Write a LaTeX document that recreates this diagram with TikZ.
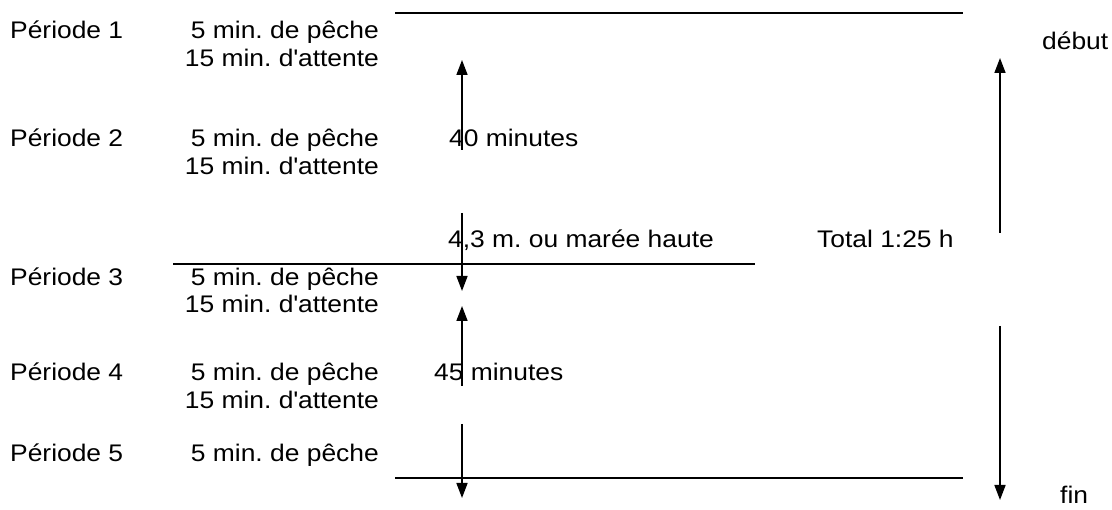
\documentclass[tikz,border=0pt]{standalone}
\usepackage{fontspec}
\setmainfont{Liberation Sans}[FakeStretch=1.1]
\usetikzlibrary{arrows.meta}
\frenchspacing
\newcommand{\apos}{\textquotesingle}
\begin{document}
\begin{tikzpicture}[x=1pt,y=-1pt,
  txt/.style={inner sep=0pt,font=\fontsize{24}{28}\selectfont},
  lbl/.style={txt,anchor=base west},
  act/.style={txt,anchor=base east},
  rule/.style={line width=1.8pt},
  timeline/.style={line width=1.6pt,-{Triangle[length=15pt,width=11pt]}}]
\useasboundingbox (0,0) rectangle (1112,510);

% periods
\node[lbl] (p1) at (10,39) {Période 1};
\node[lbl] (p2) at (10,147) {Période 2};
\node[lbl] (p3) at (10,285.5) {Période 3};
\node[lbl] (p4) at (10,381) {Période 4};
\node[lbl] (p5) at (10,462) {Période 5};

% activities
\node[act] (f1) at (379,39) {5 min. de pêche};
\node[act] (w1) at (379,66.5) {15 min. d\apos attente};
\node[act] (f2) at (379,147) {5 min. de pêche};
\node[act] (w2) at (379,174.5) {15 min. d\apos attente};
\node[act] (f3) at (379,285.5) {5 min. de pêche};
\node[act] (w3) at (379,312.5) {15 min. d\apos attente};
\node[act] (f4) at (379,381) {5 min. de pêche};
\node[act] (w4) at (379,409) {15 min. d\apos attente};
\node[act] (f5) at (379,462) {5 min. de pêche};

% durations and landmarks
\node[lbl] (d40) at (449,147) {40 minutes};
\node[lbl] (hw) at (448,248) {4,3 m. ou marée haute};
\node[lbl] (d45) at (434,381) {45 minutes};
\node[lbl] (tot) at (817,248) {Total 1:25 h};
\node[lbl] (deb) at (1042,50) {début};
\node[lbl] (fin) at (1060,504) {fin};

% horizontal rules
\coordinate (t0) at (395,13);   \coordinate (t1) at (963,13);
\coordinate (m0) at (173,264);  \coordinate (m1) at (755,264);
\coordinate (b0) at (395,478);  \coordinate (b1) at (963,478);
\draw[rule] (t0) -- (t1);
\draw[rule] (m0) -- (m1);
\draw[rule] (b0) -- (b1);

% first part arrows
\coordinate (a1s) at (462,150); \coordinate (a1e) at (462,60);
\coordinate (a2s) at (462,213); \coordinate (a2e) at (462,291);
\draw[timeline] (a1s) -- (a1e);
\draw[timeline] (a2s) -- (a2e);

% second part arrows
\coordinate (a3s) at (462,386); \coordinate (a3e) at (462,306);
\coordinate (a4s) at (462,424); \coordinate (a4e) at (462,498);
\draw[timeline] (a3s) -- (a3e);
\draw[timeline] (a4s) -- (a4e);

% overall span
\coordinate (r1s) at (1000,233); \coordinate (r1e) at (1000,58);
\coordinate (r2s) at (1000,326); \coordinate (r2e) at (1000,500);
\draw[timeline] (r1s) -- (r1e);
\draw[timeline] (r2s) -- (r2e);
\end{tikzpicture}
\end{document}
